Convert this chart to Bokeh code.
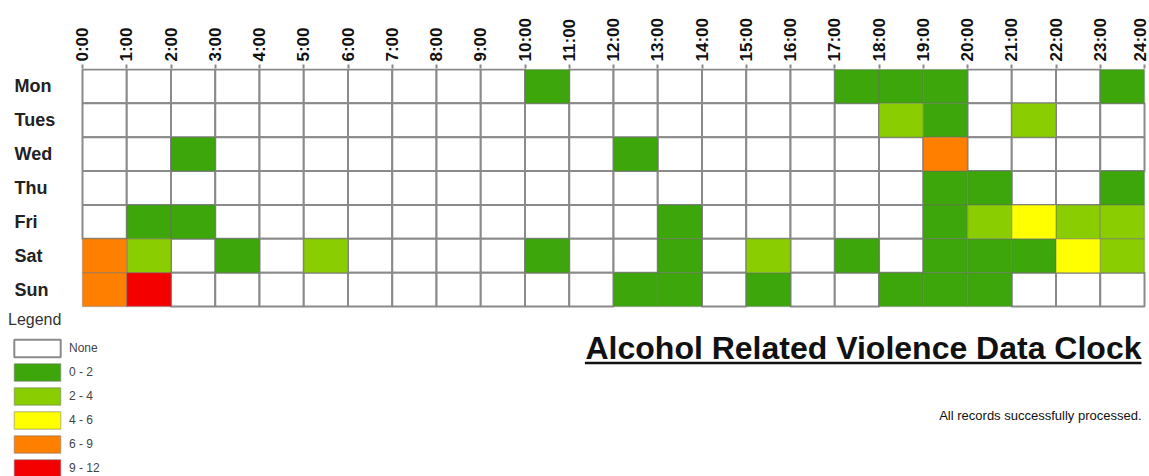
from bokeh.plotting import figure
from bokeh.models import Range1d, FixedTicker, ColumnDataSource, Legend, LegendItem
from bokeh.core.properties import value
from bokeh.embed import file_html
from bokeh.resources import INLINE

# ---------------- data ----------------
days = ["Mon", "Tues", "Wed", "Thu", "Fri", "Sat", "Sun"]
hour_ticks = list(range(25))
hour_labels = ["0:00", "1:00", "2:00", "3:00", "4:00", "5:00", "6:00", "7:00",
               "8:00", "9:00", "10:00", "11:00", "12:00", "13:00", "14:00",
               "15:00", "16:00", "17:00", "18:00", "19:00", "20:00", "21:00",
               "22:00", "23:00", "24:00"]
bin_labels = ["None", "0 - 2", "2 - 4", "4 - 6", "6 - 9", "9 - 12"]
bin_colors = ["#ffffff", "#3da60a", "#8acd00", "#ffff00", "#ff8000", "#f50000"]

# class (index into bin_labels) for each hour 0..23
mon  = [0, 0, 0, 0, 0, 0, 0, 0, 0, 0, 1, 0, 0, 0, 0, 0, 0, 1, 1, 1, 0, 0, 0, 1]
tues = [0, 0, 0, 0, 0, 0, 0, 0, 0, 0, 0, 0, 0, 0, 0, 0, 0, 0, 2, 1, 0, 2, 0, 0]
wed  = [0, 0, 1, 0, 0, 0, 0, 0, 0, 0, 0, 0, 1, 0, 0, 0, 0, 0, 0, 4, 0, 0, 0, 0]
thu  = [0, 0, 0, 0, 0, 0, 0, 0, 0, 0, 0, 0, 0, 0, 0, 0, 0, 0, 0, 1, 1, 0, 0, 1]
fri  = [0, 1, 1, 0, 0, 0, 0, 0, 0, 0, 0, 0, 0, 1, 0, 0, 0, 0, 0, 1, 2, 3, 2, 2]
sat  = [4, 2, 0, 1, 0, 2, 0, 0, 0, 0, 1, 0, 0, 1, 0, 2, 0, 1, 0, 1, 1, 1, 3, 2]
sun  = [4, 5, 0, 0, 0, 0, 0, 0, 0, 0, 0, 0, 1, 1, 0, 1, 0, 0, 1, 1, 1, 0, 0, 0]

chart_title = "Alcohol Related Violence Data Clock"
footer_text = "All records successfully processed."

# ---------------- layout constants ----------------
W, H = 1149, 476
TOP = 68                      # frame top (grid top line just below)
GRID_LEFT, GRID_RIGHT = 82, 1144
PX_PER_X = (GRID_RIGHT - GRID_LEFT) / 24.0
X0 = -GRID_LEFT / PX_PER_X
X1 = X0 + W / PX_PER_X
PX_PER_Y = (306 - 69) / 7.0
Y_TOP = -1.0 / PX_PER_Y
Y_BOTTOM = Y_TOP + (H - TOP) / PX_PER_Y


def ydata(fy):
    return (fy - TOP) / PX_PER_Y + Y_TOP


def xdata(fx):
    return fx / PX_PER_X + X0


FONT = value("Liberation Sans")

p = figure(width=W, height=H,
           x_range=Range1d(X0, X1), y_range=Range1d(Y_BOTTOM, Y_TOP),
           x_axis_location="above", y_axis_location=None,
           tools="", toolbar_location=None, output_backend="svg",
           min_border_left=0, min_border_right=0,
           min_border_top=TOP, min_border_bottom=0)
p.outline_line_color = None
p.xgrid.visible = False
p.ygrid.visible = False
p.background_fill_color = "white"
p.border_fill_color = "white"

ax = p.xaxis[0]
ax.ticker = FixedTicker(ticks=hour_ticks)
ax.major_label_overrides = {t: l for t, l in zip(hour_ticks, hour_labels)}
ax.major_label_orientation = "vertical"
ax.major_label_text_font = "Liberation Sans"
ax.major_label_text_font_style = "bold"
ax.major_label_text_font_size = "17px"
ax.major_label_text_color = "#111111"
ax.major_label_standoff = 3
ax.axis_line_color = None
ax.major_tick_line_color = "#8a8a8a"
ax.major_tick_line_width = 2
ax.major_tick_out = 4
ax.major_tick_in = 0
ax.minor_tick_line_color = None

# ---------------- cells ----------------
grid = [mon, tues, wed, thu, fri, sat, sun]
renderers = []
for k, (lbl, col) in enumerate(zip(bin_labels, bin_colors)):
    xs, ys = [], []
    for d, row in enumerate(grid):
        for h, lev in enumerate(row):
            if lev == k:
                xs.append(h + 0.5)
                ys.append(d + 0.5)
    src = ColumnDataSource(dict(x=xs, y=ys))
    if k == 0:
        r = p.rect(x="x", y="y", width=1, height=1, source=src,
                   fill_color=col, line_color="#8a8a8a", line_width=2)
    else:
        r = p.rect(x="x", y="y", width=1, height=1, source=src,
                   fill_color=col, line_color="#6a6a6a", line_alpha=0.35,
                   line_width=1.5)
    renderers.append(r)

# day labels (left aligned, left of the grid)
p.text(x=[xdata(14)] * len(days), y=[d + 0.5 for d in range(len(days))],
       text=days, text_font=FONT, text_font_style="bold",
       text_font_size="18px", text_color="#222222",
       text_align="left", text_baseline="middle")

# title with underline
TITLE_PX = 32
p.text(x=[xdata(1141)], y=[ydata(347.5)], text=[chart_title], text_font=FONT,
       text_font_style="bold", text_font_size=f"{TITLE_PX}px",
       text_color="#111111", text_align="right", text_baseline="middle")
title_w = 17.394 * TITLE_PX / PX_PER_X
p.segment(x0=[xdata(1141) - title_w], x1=[xdata(1141)],
          y0=[ydata(362.5)], y1=[ydata(362.5)],
          line_color="#111111", line_width=2.5)

# footer
p.text(x=[xdata(1141)], y=[ydata(415)], text=[footer_text], text_font=FONT,
       text_font_size="13px", text_color="#111111",
       text_align="right", text_baseline="middle")

# ---------------- legend ----------------
legend = Legend(
    items=[LegendItem(label=l, renderers=[r]) for l, r in zip(bin_labels, renderers)],
    location=(8, -3), title="Legend",
    title_text_font="Liberation Sans", title_text_font_size="16px",
    title_text_font_style="normal", title_text_color="#333333",
    title_standoff=8,
    label_text_font="Liberation Sans", label_text_font_size="12px",
    label_text_color="#444444", label_standoff=3,
    glyph_width=58, glyph_height=22, label_height=22, spacing=2,
    padding=0, margin=0, border_line_color=None, background_fill_alpha=0,
)
p.add_layout(legend)

open("out.html", "w").write(file_html(p, INLINE))
